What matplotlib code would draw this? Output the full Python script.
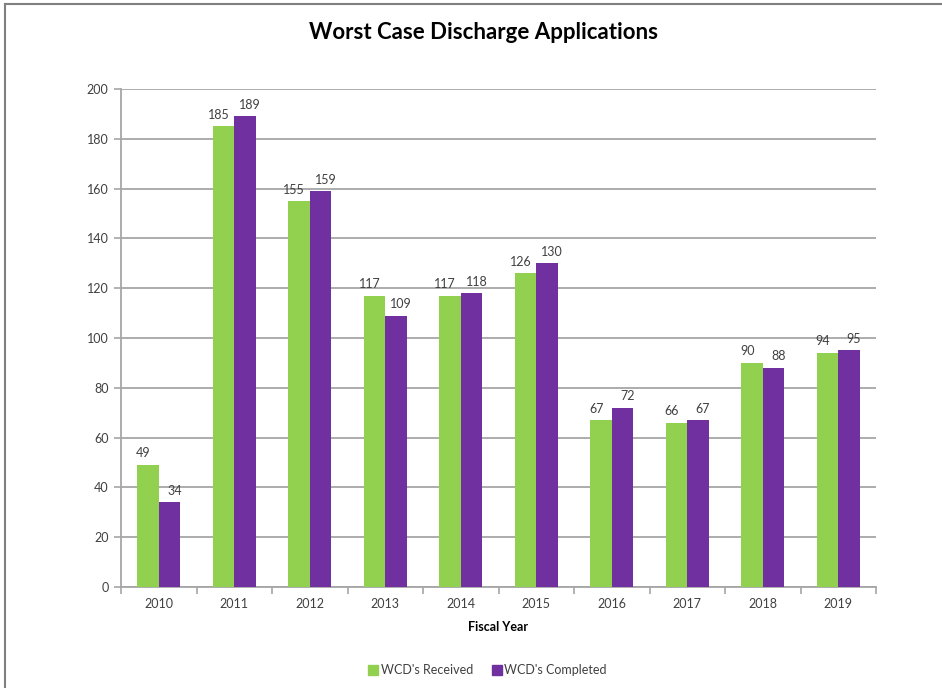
import numpy as np
import matplotlib
matplotlib.use("Agg")
import matplotlib.pyplot as plt
from matplotlib.lines import Line2D

plt.rcParams["font.family"] = ["Lato", "DejaVu Sans"]

# ── Data ─────────────────────────────────────────────────────────────────────
years = ["2010", "2011", "2012", "2013", "2014", "2015", "2016", "2017", "2018", "2019"]
received = [49, 185, 155, 117, 117, 126, 67, 66, 90, 94]
completed = [34, 189, 159, 109, 118, 130, 72, 67, 88, 95]

GREEN = "#92D050"
PURPLE = "#7030A0"
GRID = "#a6a6a6"
TEXT = "#404040"

fig = plt.figure(figsize=(9.42, 6.88), dpi=100)
ax = fig.add_axes([0.1285, 0.1468, 0.8015, 0.7238])

x = np.arange(len(years))
width = 0.285
b1 = ax.bar(x - width / 2, received, width, color=GREEN, label="WCD's Received", zorder=3)
b2 = ax.bar(x + width / 2, completed, width, color=PURPLE, label="WCD's Completed", zorder=3)

# labels sit a little outward from each bar, like the Excel original
for bars, dx in ((b1, -3.5), (b2, 3.5)):
    for bar in bars:
        h = bar.get_height()
        ax.annotate(f"{h:.0f}", (bar.get_x() + bar.get_width() / 2, h),
                    xytext=(dx, 4), textcoords="offset points",
                    ha="center", va="bottom", fontsize=9, color=TEXT)

ax.set_xlim(-0.5, len(years) - 0.5)
ax.set_ylim(0, 200)
ax.set_yticks(np.arange(0, 201, 20))
ax.yaxis.grid(True, color=GRID, linewidth=1.3, zorder=0)
ax.set_axisbelow(True)

ax.set_xticks(x)
ax.set_xticklabels(years)
ax.set_xticks(np.arange(-0.5, len(years), 1), minor=True)
ax.tick_params(axis="x", which="major", length=0, pad=8, labelsize=9, labelcolor=TEXT)
ax.tick_params(axis="x", which="minor", length=5, color=GRID, width=1.2)
ax.tick_params(axis="y", length=5, color=GRID, width=1.2, labelsize=9, labelcolor=TEXT, pad=4)

for side in ("top", "right"):
    ax.spines[side].set_visible(False)
for side in ("left", "bottom"):
    ax.spines[side].set_color(GRID)
    ax.spines[side].set_linewidth(1.3)

ax.set_xlabel("Fiscal Year", fontsize=9, fontweight="bold", color="black", labelpad=8)
fig.text(0.513, 0.953, "Worst Case Discharge Applications", ha="center", va="center",
         fontsize=16, fontweight="bold", color="black")

handles = [
    Line2D([], [], marker="s", linestyle="", markersize=7, color=GREEN, label="WCD's Received"),
    Line2D([], [], marker="s", linestyle="", markersize=7, color=PURPLE, label="WCD's Completed"),
]
fig.legend(handles=handles, loc="center", bbox_to_anchor=(0.516, 0.026), ncol=2,
           frameon=False, fontsize=9, handletextpad=0.0, columnspacing=1.3,
           handlelength=1.2, labelcolor=TEXT)

# frame lines at top and left of the picture
fig.add_artist(Line2D([0.005, 1.0], [0.994, 0.994], color="#808080", linewidth=1.5))
fig.add_artist(Line2D([0.005, 0.005], [0.0, 0.994], color="#808080", linewidth=1.5))

fig.savefig("out.png", dpi=100)
